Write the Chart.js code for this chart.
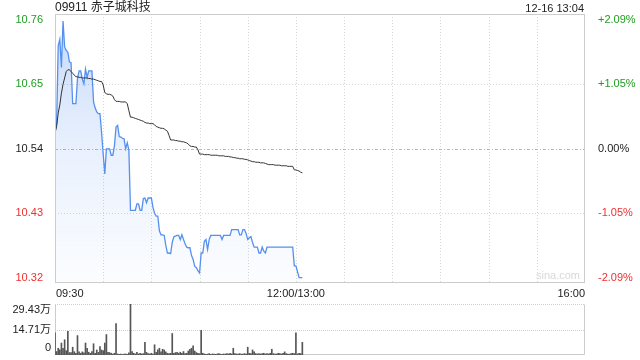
<!DOCTYPE html>
<html><head><meta charset="utf-8">
<script src="https://cdn.jsdelivr.net/npm/chart.js@4/dist/chart.umd.min.js"></script>
<style>
html,body{margin:0;padding:0;background:#fff;}
#wrap{position:relative;width:640px;height:360px;overflow:hidden;font-family:"Liberation Sans",Arial,"Noto Sans CJK SC",sans-serif;}
#title{position:absolute;left:55px;top:0px;font-size:12px;line-height:15px;color:#222;font-family:"Liberation Sans",Arial,"Noto Sans CJK SC",sans-serif;}
#date{position:absolute;right:56px;top:1px;font-size:11px;line-height:14px;color:#222;}
#c1{position:absolute;left:0;top:0;}
#c2{position:absolute;left:0;top:290px;}
</style></head>
<body><div id="wrap">
<canvas id="c1" width="640" height="300"></canvas>
<canvas id="c2" width="640" height="70"></canvas>
<div id="title">09911 赤子城科技</div>
<div id="date">12-16 13:04</div>
</div>
<script>
// ---- data ----
const prevClose = 10.54;
const priceTicks = [10.32, 10.43, 10.54, 10.65, 10.76];
const pctLabels = ['-2.09%', '-1.05%', '0.00%', '+1.05%', '+2.09%'];
const timeLabels = [[0, '09:30'], [150, '12:00/13:00'], [330, '16:00']];
const volTicks = [0, 14.71, 29.43];
const volTickLabels = ['0', '14.71万', '29.43万'];

const prices = [
10.568,10.583,10.716,10.727,10.679,10.758,10.714,10.708,10.705,10.688,
10.687,10.617,10.617,10.617,10.660,10.673,10.673,10.659,10.651,10.676,
10.662,10.673,10.673,10.673,10.620,10.610,10.603,10.600,10.600,10.568,
10.531,10.497,10.540,10.540,10.540,10.529,10.529,10.545,10.577,10.580,
10.561,10.560,10.558,10.557,10.540,10.550,10.538,10.435,10.435,10.435,
10.435,10.446,10.446,10.435,10.435,10.455,10.456,10.448,10.456,10.456,
10.456,10.440,10.430,10.425,10.425,10.400,10.393,10.393,10.392,10.375,
10.362,10.362,10.361,10.380,10.390,10.391,10.392,10.392,10.385,10.393,
10.385,10.378,10.372,10.371,10.371,10.358,10.351,10.339,10.337,10.332,
10.328,10.362,10.362,10.382,10.385,10.368,10.385,10.392,10.392,10.392,
10.392,10.392,10.392,10.392,10.385,10.392,10.392,10.392,10.392,10.392,
10.402,10.402,10.402,10.402,10.402,10.393,10.393,10.402,10.402,10.395,
10.385,10.388,10.390,10.380,10.372,10.372,10.372,10.362,10.362,10.372,
10.365,10.362,10.372,10.372,10.372,10.372,10.372,10.372,10.372,10.372,
10.372,10.372,10.372,10.372,10.372,10.372,10.372,10.372,10.372,10.340,
10.340,10.330,10.320,10.320,10.320
];

const avgPrices = [
10.567,10.578,10.601,10.615,10.635,10.650,10.661,10.672,10.675,10.675,
10.672,10.669,10.666,10.663,10.663,10.662,10.662,10.661,10.661,10.661,
10.661,10.660,10.660,10.659,10.659,10.658,10.657,10.656,10.655,10.655,
10.649,10.636,10.634,10.633,10.633,10.632,10.630,10.624,10.621,10.621,
10.621,10.620,10.620,10.620,10.620,10.617,10.605,10.594,10.594,10.593,
10.592,10.591,10.590,10.589,10.588,10.587,10.585,10.584,10.584,10.583,
10.583,10.583,10.581,10.578,10.577,10.576,10.575,10.575,10.574,10.572,
10.570,10.563,10.555,10.555,10.555,10.554,10.554,10.553,10.553,10.552,
10.552,10.551,10.550,10.548,10.545,10.544,10.544,10.543,10.543,10.538,
10.531,10.531,10.531,10.530,10.530,10.530,10.530,10.529,10.529,10.529,
10.529,10.529,10.528,10.528,10.528,10.528,10.527,10.527,10.527,10.526,
10.526,10.525,10.525,10.524,10.524,10.523,10.523,10.523,10.522,10.522,
10.521,10.520,10.519,10.518,10.518,10.517,10.517,10.517,10.516,10.516,
10.516,10.515,10.514,10.513,10.513,10.513,10.513,10.512,10.512,10.512,
10.512,10.511,10.511,10.511,10.511,10.510,10.510,10.510,10.510,10.504,
10.504,10.503,10.502,10.500,10.499
];

const volumes = [
12.75,2.0,3.9,3.0,6.9,3.9,8.8,2.5,13.7,1.4,
1.4,4.5,1.9,1.0,11.2,1.8,1.0,1.8,1.2,6.9,
3.9,1.6,1.0,2.0,6.5,1.0,2.9,1.5,4.9,2.9,
2.5,6.9,11.8,1.6,1.4,1.0,0.5,1.0,18.2,0.6,
0.4,0.5,0.3,0.5,0.6,0.4,1.2,29.43,2.0,1.0,
0.6,1.5,0.6,1.0,0.6,0.8,7.3,1.5,0.8,0.6,
1.0,0.6,5.9,1.5,3.0,3.9,1.8,3.3,2.9,1.8,
1.0,0.8,1.0,12.4,1.0,1.4,1.6,1.0,1.6,1.0,
2.0,0.8,1.0,2.3,3.3,3.9,5.3,2.3,1.4,1.0,
0.8,14.3,1.0,0.6,0.4,0.5,0.8,0.4,0.6,0.5,
0.4,0.6,0.8,0.5,0.4,0.6,0.5,0.8,0.6,1.0,
0.6,3.9,0.8,0.6,0.6,0.8,0.5,0.6,0.8,0.6,
4.5,1.0,0.8,2.9,1.9,0.8,0.6,0.8,0.6,0.8,
1.0,0.6,0.8,0.6,1.0,3.3,0.8,0.6,0.6,1.0,
0.8,0.6,1.0,1.8,0.8,0.6,0.5,0.8,1.0,0.8,
12.75,0.6,1.0,0.8,7.3
];

// ---- chart ----
const FONT = '"Liberation Sans", Arial, "Noto Sans CJK SC", sans-serif';
Chart.defaults.font.family = FONT;
Chart.defaults.font.size = 11;

const GREEN = '#1f9e1f', RED = '#f03030', DARK = '#222';
const colorFor = v => v > prevClose + 1e-9 ? GREEN : (v < prevClose - 1e-9 ? RED : DARK);

const Y_MIN = 10.3108, Y_MAX = 10.7702;

const pricePts = prices.map((v, i) => ({x: i, y: v}));
const avgPts = avgPrices.map((v, i) => ({x: i, y: v}));

const mainDeco = {
  id: 'mainDeco',
  beforeDatasetsDraw(chart) {
    const {ctx, chartArea: a, scales} = chart;
    ctx.save();
    ctx.lineWidth = 1;
    ctx.strokeStyle = '#d6d6d6';
    ctx.setLineDash([1, 2]);
    for (let m = 30; m < 330; m += 30) {
      const x = Math.round(scales.x.getPixelForValue(m)) + 0.5;
      ctx.beginPath(); ctx.moveTo(x, a.top); ctx.lineTo(x, a.bottom); ctx.stroke();
    }
    [10.65, 10.43].forEach(v => {
      const y = Math.round(scales.y.getPixelForValue(v)) + 0.5;
      ctx.beginPath(); ctx.moveTo(a.left, y); ctx.lineTo(a.right, y); ctx.stroke();
    });
    ctx.strokeStyle = '#b8b8b8';
    ctx.setLineDash([3, 2, 1, 2]);
    const y0 = Math.round(scales.y.getPixelForValue(prevClose)) + 0.5;
    ctx.beginPath(); ctx.moveTo(a.left, y0); ctx.lineTo(a.right, y0); ctx.stroke();
    ctx.setLineDash([]);
    ctx.fillStyle = '#d8d8d8';
    ctx.font = '11px ' + FONT;
    ctx.textAlign = 'right';
    ctx.textBaseline = 'middle';
    ctx.fillText('sina.com', a.right - 5, a.bottom - 7);
    ctx.restore();
  },
  afterDraw(chart) {
    const {ctx, chartArea: a, scales} = chart;
    ctx.save();
    ctx.strokeStyle = '#cccccc';
    ctx.lineWidth = 1;
    ctx.strokeRect(Math.round(a.left) + 0.5, Math.round(a.top) + 0.5,
                   Math.round(a.right - a.left) - 1, Math.round(a.bottom - a.top) - 1);
    ctx.fillStyle = DARK;
    ctx.font = '11px ' + FONT;
    ctx.textBaseline = 'middle';
    timeLabels.forEach(([m, t], k) => {
      const x = scales.x.getPixelForValue(m);
      ctx.textAlign = k === 0 ? 'left' : (k === timeLabels.length - 1 ? 'right' : 'center');
      ctx.fillText(t, k === 0 ? x + 1 : x, a.bottom + 11);
    });
    ctx.restore();
  }
};

new Chart(document.getElementById('c1'), {
  type: 'line',
  data: {
    datasets: [
      {data: avgPts, borderColor: '#333', borderWidth: 1, pointRadius: 0, tension: 0, fill: false, order: 0},
      {data: pricePts, borderColor: '#5590ef', borderWidth: 1.3, pointRadius: 0, tension: 0, order: 1,
       fill: 'start',
       backgroundColor: (c) => {
         const ch = c.chart, ar = ch.chartArea;
         if (!ar) return 'rgba(85,144,239,0.15)';
         const g = ch.ctx.createLinearGradient(0, ar.top, 0, ar.bottom);
         g.addColorStop(0, 'rgba(85,144,239,0.34)');
         g.addColorStop(0.5, 'rgba(85,144,239,0.13)');
         g.addColorStop(1, 'rgba(85,144,239,0.02)');
         return g;
       }}
    ]
  },
  options: {
    responsive: false, animation: false, devicePixelRatio: 1,
    layout: {padding: {top: 14, left: 0, right: 0, bottom: 0}},
    plugins: {legend: {display: false}, tooltip: {enabled: false}},
    scales: {
      x: {type: 'linear', min: 0, max: 330, grid: {display: false}, border: {display: false},
          ticks: {display: false}, afterFit(s) { s.height = 17; }},
      y: {position: 'left', min: Y_MIN, max: Y_MAX, grid: {display: false}, border: {display: false},
          afterBuildTicks(s) { s.ticks = priceTicks.map(v => ({value: v})); },
          ticks: {padding: 4, autoSkip: false, callback: v => v.toFixed(2),
                  color: c => colorFor(c.tick.value), font: {size: 11}},
          afterFit(s) { s.width = 55; }},
      y2: {position: 'right', min: Y_MIN, max: Y_MAX, grid: {display: false}, border: {display: false},
          afterBuildTicks(s) { s.ticks = priceTicks.map(v => ({value: v})); },
          ticks: {padding: 5, autoSkip: false, callback: (v) => pctLabels[priceTicks.indexOf(v)],
                  color: c => colorFor(c.tick.value), font: {size: 11}},
          afterFit(s) { s.width = 55; }}
    }
  },
  plugins: [mainDeco]
});

const volDeco = {
  id: 'volDeco',
  beforeDatasetsDraw(chart) {
    const {ctx, chartArea: a, scales} = chart;
    ctx.save();
    ctx.lineWidth = 1;
    ctx.strokeStyle = '#cfcfcf';
    ctx.setLineDash([1, 1]);
    [volTicks[2], volTicks[1]].forEach(v => {
      const y = Math.round(scales.y.getPixelForValue(v)) + 0.5;
      ctx.beginPath(); ctx.moveTo(a.left, y); ctx.lineTo(a.right, y); ctx.stroke();
    });
    ctx.setLineDash([]);
    ctx.strokeStyle = '#cccccc';
    const L = Math.round(a.left) + 0.5, R = Math.round(a.right) - 0.5, B = Math.round(a.bottom) - 0.5, T = Math.round(a.top) + 0.5;
    ctx.beginPath(); ctx.moveTo(L, T); ctx.lineTo(L, B); ctx.lineTo(R, B); ctx.lineTo(R, T); ctx.stroke();
    ctx.fillStyle = DARK;
    ctx.font = '11px ' + FONT;
    ctx.textAlign = 'right';
    ctx.textBaseline = 'middle';
    const offs = [-7, 0, 6];
    volTicks.forEach((v, k) => {
      ctx.fillText(volTickLabels[k], a.left - 4, scales.y.getPixelForValue(v) + offs[k]);
    });
    ctx.restore();
  }
};

new Chart(document.getElementById('c2'), {
  type: 'bar',
  data: {datasets: [{data: volumes.map((v, i) => ({x: i, y: v})), backgroundColor: '#555', barThickness: 1, borderWidth: 0}]},
  options: {
    responsive: false, animation: false, devicePixelRatio: 1,
    layout: {padding: {top: 14, left: 55, right: 55, bottom: 5}},
    plugins: {legend: {display: false}, tooltip: {enabled: false}},
    scales: {
      x: {type: 'linear', min: 0, max: 330, offset: false, display: false},
      y: {min: 0, max: 29.43, display: false}
    }
  },
  plugins: [volDeco]
});
</script>
</body></html>
